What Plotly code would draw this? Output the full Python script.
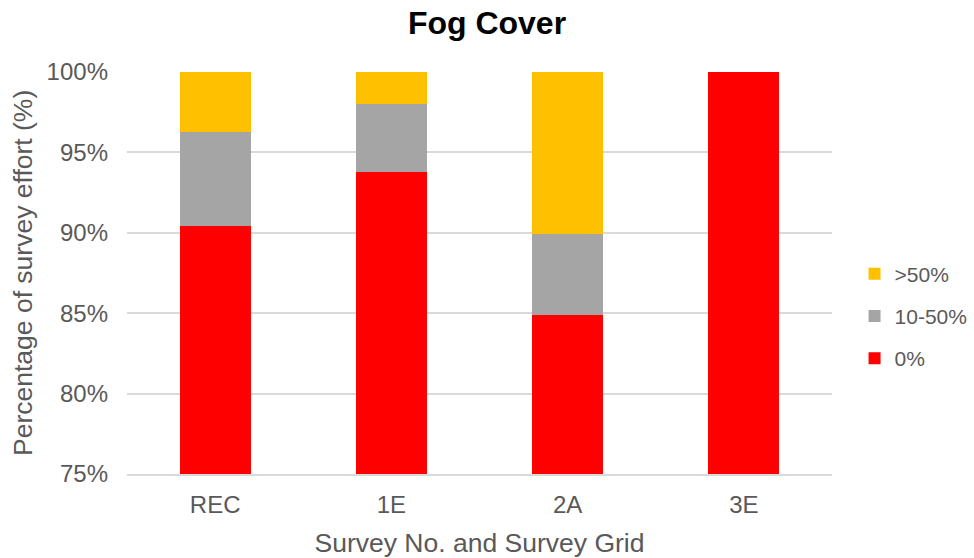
import plotly.graph_objects as go

categories = ["REC", "1E", "2A", "3E"]
fog_0 = [90.4, 93.8, 84.9, 100.0]
fog_10_50 = [5.9, 4.2, 5.0, 0.0]
fog_50 = [3.7, 2.0, 10.1, 0.0]
y_ticks = [75, 80, 85, 90, 95, 100]
y_tick_labels = ["75%", "80%", "85%", "90%", "95%", "100%"]

FONT = "Liberation Sans, Arial, sans-serif"
GREY_TXT = "#595959"

fig = go.Figure()
fig.add_trace(go.Bar(x=categories, y=fog_0, name="0%", legendrank=3,
                     marker=dict(color="#FF0000", line=dict(width=0)), legendgroup="a"))
fig.add_trace(go.Bar(x=categories, y=fog_10_50, name="10-50%", legendrank=2,
                     marker=dict(color="#A5A5A5", line=dict(width=0)), legendgroup="b"))
fig.add_trace(go.Bar(x=categories, y=fog_50, name=">50%", legendrank=1,
                     marker=dict(color="#FFC000", line=dict(width=0)), legendgroup="c"))

fig.update_layout(
    barmode="stack",
    bargap=0.597,
    width=974, height=558,
    margin=dict(l=127, r=142, t=72, b=84, autoexpand=False),
    paper_bgcolor="white", plot_bgcolor="white",
    font=dict(family=FONT, color=GREY_TXT),
    title=dict(text="<b>Fog Cover</b>", x=0.5, xanchor="center", y=0.96, yanchor="middle",
               font=dict(family=FONT, size=32, color="black")),
    legend=dict(x=1.032, xanchor="left", y=0.393, yanchor="middle", traceorder="grouped",
                tracegroupgap=12, font=dict(family=FONT, size=21, color=GREY_TXT),
                bgcolor="rgba(0,0,0,0)"),
    xaxis=dict(showgrid=False, showline=True, linecolor="#D9D9D9", linewidth=1.5,
               automargin=False,
               tickfont=dict(family=FONT, size=24, color=GREY_TXT), ticks="",
               ticklabelstandoff=8,
               title=dict(text="Survey No. and Survey Grid", standoff=19,
                          font=dict(family=FONT, size=26.5, color=GREY_TXT))),
    yaxis=dict(range=[75, 100], tickvals=y_ticks, ticktext=y_tick_labels, showgrid=True,
               gridcolor="#D9D9D9", gridwidth=1.5, zeroline=False, ticks="",
               automargin=False,
               tickfont=dict(family=FONT, size=24, color=GREY_TXT), ticklabelstandoff=18),
    annotations=[dict(text="Percentage of survey effort (%)", textangle=-90,
                      xref="paper", yref="paper", x=-0.1475, y=0.5,
                      xanchor="center", yanchor="middle", showarrow=False,
                      font=dict(family=FONT, size=26.5, color=GREY_TXT))],
)

fig.write_html("out.html", config={"displayModeBar": False},
               post_script="document.body.style.margin='0px';")
